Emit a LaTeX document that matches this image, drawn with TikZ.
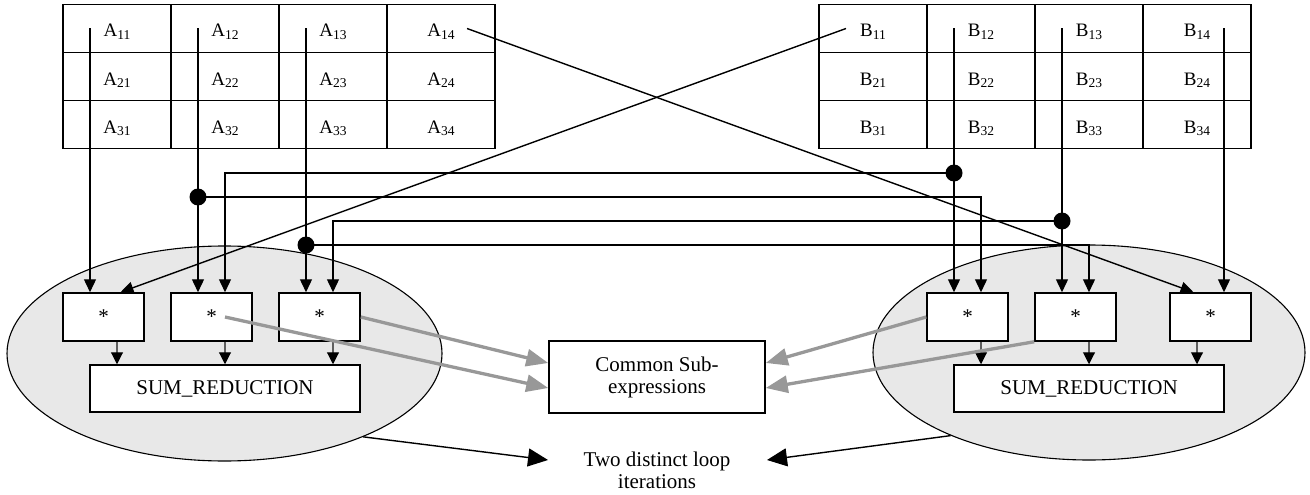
\documentclass[tikz,border=0pt]{standalone}
\usepackage{fontspec}
\setmainfont{Liberation Serif}
\usetikzlibrary{arrows.meta,shapes.geometric,calc}
\definecolor{ellfill}{RGB}{232,232,232}
\definecolor{cseGray}{RGB}{152,152,152}
\definecolor{stemGray}{RGB}{95,95,95}
% matrix entry with subscript index
\newcommand{\mxe}[2]{\fontsize{19}{21}\selectfont #1\raisebox{-2.5pt}{\fontsize{13.5}{14}\selectfont #2}}

\begin{document}
\begin{tikzpicture}[x=1pt,y=-1pt,
  cell/.style={draw, line width=1.6pt, minimum width=108pt, minimum height=48pt,
    inner sep=0pt, text height=20pt, text depth=3pt},
  mulbox/.style={draw, fill=white, line width=1.5pt, minimum width=81pt, minimum height=48pt,
    inner sep=0pt, font=\fontsize{21}{24}\selectfont},
  sumbox/.style={draw, fill=white, line width=1.5pt, minimum width=270pt, minimum height=47pt,
    inner sep=0pt, font=\fontsize{21}{24}\selectfont},
  csebox/.style={draw, fill=white, line width=1.5pt, minimum width=216pt, minimum height=72pt,
    inner sep=0pt, align=center, font=\fontsize{21}{22}\selectfont},
  iterbox/.style={inner sep=0pt, align=center, font=\fontsize{21}{22}\selectfont},
  loopell/.style={ellipse, draw, line width=1.1pt, fill=ellfill, inner sep=0pt,
    minimum height=215pt},
  joint/.style={circle, fill=black, inner sep=0pt, minimum size=17pt},
  wire/.style={line width=1.4pt, -{Triangle[length=13pt,width=12pt]}},
  sarr/.style={line width=1.1pt, draw=stemGray, -{Triangle[length=12pt,width=12pt,color=black]}},
  garr/.style={line width=3.3pt, draw=cseGray, -{Triangle[length=22pt,width=17pt]}},
  barr/.style={line width=1.4pt, -{Triangle[length=20pt,width=18pt]}}
]
\useasboundingbox (0,0) rectangle (1310,495);

% the two loop iterations
\node[loopell, minimum width=435pt] (elL) at (224.5,353.5) {};
\node[loopell, minimum width=432pt] (elR) at (1089,352.5) {};

% matrices A and B
\foreach \r in {1,2,3}{
  \foreach \c in {1,2,3,4}{
    \node[cell] (a\r\c) at ({63+108*(\c-0.5)},{4.5+48*(\r-0.5)}) {\mxe{A}{\r\c}};
    \node[cell] (b\r\c) at ({819+108*(\c-0.5)},{4.5+48*(\r-0.5)}) {\mxe{B}{\r\c}};
  }
}

% multipliers and reductions
\node[mulbox] (a1) at (103.5,317) {*};
\node[mulbox] (a2) at (211.5,317) {*};
\node[mulbox] (a3) at (319.5,317) {*};
\node[mulbox] (b1) at (967.5,317) {*};
\node[mulbox] (b2) at (1075.5,317) {*};
\node[mulbox] (b3) at (1210.5,317) {*};
\node[sumbox] (suml) at (225,388.5) {SUM\_REDUCTION};
\node[sumbox] (sumr) at (1089,388.5) {SUM\_REDUCTION};

\node[csebox] (cse) at (657,377) {Common Sub-\\expressions};
\node[iterbox] (iter) at (657,470) {Two distinct loop\\iterations};
\coordinate (iterL) at (548,460);
\coordinate (iterR) at (767,460);

% fan-out joints
\node[joint] (dA12) at (198,197) {};
\node[joint] (dA13) at (306,245) {};
\node[joint] (dB12) at (954,173) {};
\node[joint] (dB13) at (1062,221) {};

% direct operand wires
\draw[wire] ([xshift=-27pt]a11.center) -- ([xshift=-27pt]a11.center |- a1.north);
\draw[wire] ([xshift=-27pt]a12.center) -- ([xshift=-27pt]a12.center |- a2.north);
\draw[wire] ([xshift=-27pt]a13.center) -- ([xshift=-27pt]a13.center |- a3.north);
\draw[wire] ([xshift=-27pt]b12.center) -- ([xshift=-27pt]b12.center |- b1.north);
\draw[wire] ([xshift=-27pt]b13.center) -- ([xshift=-27pt]b13.center |- b2.north);
\draw[wire] ([xshift=27pt]b14.center) -- ([xshift=27pt]b14.center |- b3.north);

% shared operand wires
\draw[wire] (dB12.center) -| ([xshift=13.5pt]a2.north);
\draw[wire] (dA12.center) -| ([xshift=13.5pt]b1.north);
\draw[wire] (dB13.center) -| ([xshift=13.5pt]a3.north);
\draw[wire] (dA13.center) -| ([xshift=13.5pt]b2.north);

% crossing operands
\draw[wire] ([xshift=-27pt]b11.center) -- ([xshift=17pt]a1.north);
\draw[wire] ([xshift=26pt]a14.center) -- ([xshift=-17pt]b3.north);

% products into the reductions
\foreach \m in {a1,a2,a3}
  \draw[sarr] ([xshift=13.5pt]\m.south) -- ([xshift=13.5pt]\m.south |- suml.north);
\foreach \m in {b1,b2}
  \draw[sarr] ([xshift=13.5pt]\m.south) -- ([xshift=13.5pt]\m.south |- sumr.north);
\draw[sarr] ([xshift=-13.5pt]b3.south) -- ([xshift=-13.5pt]b3.south |- sumr.north);

% common sub-expressions
\draw[garr] ([xshift=13.5pt]a2.center) -- ($(cse.west)+(0,11)$);
\draw[garr] (a3.east) -- ($(cse.west)+(0,-14)$);
\draw[garr] (b1.west) -- ($(cse.east)+(0,-14)$);
\draw[garr] (b2.south west) -- ($(cse.east)+(0,11)$);

% iteration labels
\draw[barr] (elL.-31.6) -- (iterL);
\draw[barr] (elR.211) -- (iterR);
\end{tikzpicture}
\end{document}
